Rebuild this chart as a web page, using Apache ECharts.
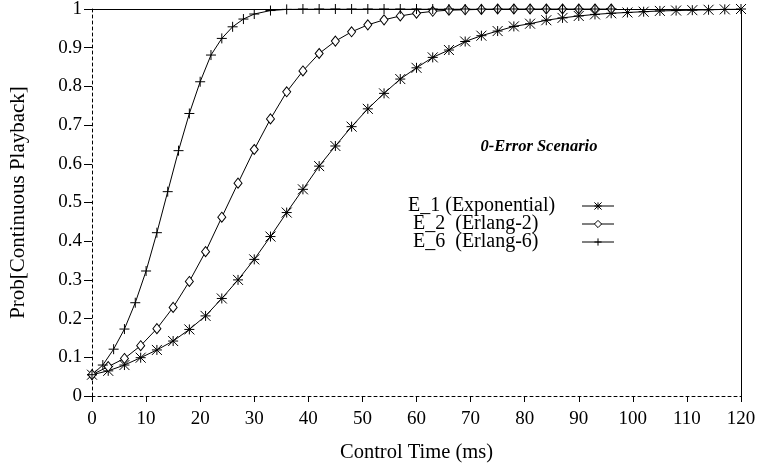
<!DOCTYPE html>
<html>
<head>
<meta charset="utf-8">
<script src="https://cdn.jsdelivr.net/npm/echarts@6/dist/echarts.min.js"></script>
<style>html,body{margin:0;padding:0;background:#fff;}#c{width:759px;height:466px;}</style>
</head>
<body>
<div id="c"></div>
<script>
var seriesNames = ['E_1 (Exponential)', 'E_2  (Erlang-2)', 'E_6  (Erlang-6)'];
var xTicks = [0,10,20,30,40,50,60,70,80,90,100,110,120];
var yTicks = [0,0.1,0.2,0.3,0.4,0.5,0.6,0.7,0.8,0.9,1];

var e1X = [0,3,6,9,12,15,18,21,24,27,30,33,36,39,42,45,48,51,54,57,60,63,66,69,72,75,78,81,84,87,90,93,96,99,102,105,108,111,114,117,120];
var e1Y = [0.055,0.065,0.080,0.099,0.119,0.142,0.172,0.207,0.252,0.300,0.353,0.412,0.474,0.534,0.594,0.646,0.696,0.742,0.782,0.819,0.848,0.875,0.894,0.916,0.931,0.943,0.955,0.962,0.971,0.977,0.982,0.986,0.989,0.991,0.993,0.995,0.996,0.997,0.998,0.999,1.0];

var e2X = [0,3,6,9,12,15,18,21,24,27,30,33,36,39,42,45,48,51,54,57,60,63,66,69,72,75,78,81,84,87,90,93,96];
var e2Y = [0.055,0.076,0.097,0.130,0.174,0.229,0.296,0.373,0.462,0.550,0.637,0.716,0.786,0.840,0.885,0.917,0.941,0.959,0.972,0.982,0.989,0.994,0.997,0.998,0.999,1.0,1.0,1.0,1.0,1.0,1.0,1.0,1.0];

var e6X = [0,2,4,6,8,10,12,14,16,18,20,22,24,26,28,30,33,36,39,42,45,48,51,54,57,60,63,66,69,72,75,78,81,84,87,90,93,96];
var e6Y = [0.055,0.080,0.121,0.173,0.241,0.323,0.422,0.528,0.634,0.730,0.812,0.881,0.924,0.954,0.974,0.987,0.996,0.999,1.0,1.0,1.0,1.0,1.0,1.0,1.0,1.0,1.0,1.0,1.0,1.0,1.0,1.0,1.0,1.0,1.0,1.0,1.0,1.0];

function pairs(xs, ys){ return xs.map(function(x,i){ return [x, ys[i]]; }); }

var FONT = 'Liberation Serif';
var asterisk = 'path://M0 0 L10 10 M10 0 L0 10 M5 0 L5 10 M0 5 L10 5';
var diamond = 'path://M5 0 L10 6 L5 12 L0 6 Z';
var plus = 'path://M5 0 L5 10 M0 5 L10 5';

var chart = echarts.init(document.getElementById('c'), null, {renderer: 'canvas'});
function mkSeries(name, data, symbol, size){
  return {
    name: name, type: 'line', data: data, symbol: symbol, symbolSize: size,
    showSymbol: true, animation: false, smooth: false,
    lineStyle: {color: '#000', width: 1},
    itemStyle: {color: '#fff', borderColor: '#000', borderWidth: 1},
    emphasis: {disabled: true}
  };
}
var option = {
  backgroundColor: '#fff',
  animation: false,
  textStyle: {fontFamily: FONT, color: '#000'},
  title: {
    text: '0-Error Scenario', left: 534, top: 133, textAlign: 'center',
    textStyle: {fontFamily: FONT, fontSize: 16.5, fontStyle: 'italic', fontWeight: 'bold', color: '#000'}
  },
  legend: {
    orient: 'vertical', left: 403, top: 191, align: 'right',
    itemWidth: 32, itemHeight: 9, itemGap: -2,
    data: seriesNames,
    itemStyle: {borderWidth: 1},
    lineStyle: {width: 1},
    formatter: function(n){ return n === seriesNames[0] ? '{a|' + n + '}' : '{b|' + n + '}'; },
    textStyle: {
      fontFamily: FONT, fontSize: 20, color: '#000', lineHeight: 17,
      rich: {
        a: {fontFamily: FONT, fontSize: 20, width: 169, align: 'left', lineHeight: 17},
        b: {fontFamily: FONT, fontSize: 20, width: 164, align: 'left', lineHeight: 17, padding: [0,0,0,5]}
      }
    }
  },
  grid: {left: 92, right: 18, top: 9, bottom: 70, containLabel: false, outerBoundsMode: 'none'},
  xAxis: [{
    type: 'value', min: 0, max: 120, interval: 10,
    name: 'Control Time (ms)', nameLocation: 'middle', nameGap: 46,
    nameTextStyle: {fontFamily: FONT, fontSize: 20.5, color: '#000'},
    axisLine: {show: true, lineStyle: {color: '#000', width: 1, type: [3, 3]}},
    axisTick: {show: true, inside: false, length: 6, lineStyle: {color: '#000'}},
    axisLabel: {margin: 14, fontFamily: FONT, fontSize: 19, color: '#000',
      formatter: function(v){ return xTicks.indexOf(v) >= 0 ? String(v) : ''; }},
    splitLine: {show: false}
  }, {
    type: 'value', min: 0, max: 120, position: 'top',
    axisLine: {show: true, onZero: false, lineStyle: {color: '#000', width: 1}},
    axisTick: {show: false}, axisLabel: {show: false}, splitLine: {show: false}
  }],
  yAxis: [{
    type: 'value', min: 0, max: 1, interval: 0.1,
    name: 'Prob[Continuous Playback]', nameLocation: 'middle', nameGap: 63, nameRotate: 90,
    nameTextStyle: {fontFamily: FONT, fontSize: 21, color: '#000'},
    axisLine: {show: true, lineStyle: {color: '#000', width: 1, type: [3, 3]}},
    axisTick: {show: true, inside: false, length: 8, lineStyle: {color: '#000'}},
    axisLabel: {margin: 10, fontFamily: FONT, fontSize: 19, color: '#000',
      formatter: function(v){ return String(Math.round(v*10)/10); }},
    splitLine: {show: false}
  }, {
    type: 'value', min: 0, max: 1, position: 'right',
    axisLine: {show: true, onZero: false, lineStyle: {color: '#000', width: 1}},
    axisTick: {show: false}, axisLabel: {show: false}, splitLine: {show: false}
  }],
  series: [
    mkSeries(seriesNames[0], pairs(e1X, e1Y), asterisk, 10),
    mkSeries(seriesNames[1], pairs(e2X, e2Y), diamond, [8, 10]),
    mkSeries(seriesNames[2], pairs(e6X, e6Y), plus, 10)
  ]
};
chart.setOption(option);
</script>
</body>
</html>
